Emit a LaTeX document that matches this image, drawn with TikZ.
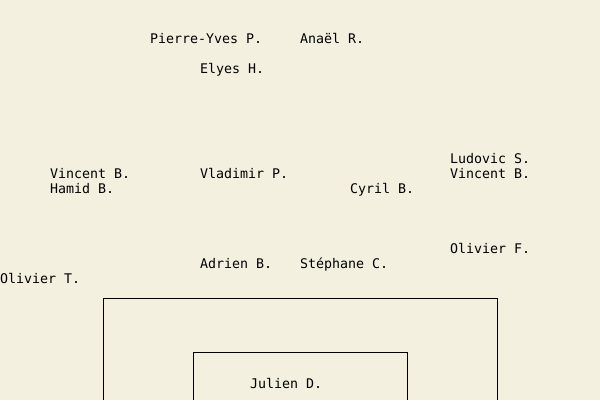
\documentclass[tikz,border=0pt]{standalone}
\usepackage{fontspec}
\newfontfamily\monof{DejaVu Sans Mono}
\definecolor{bgcol}{RGB}{243,240,224}
\tikzset{
  person/.style={anchor=base west, inner sep=0pt, outer sep=0pt, font=\monof\fontsize{13.3}{15}\selectfont, text=black},
  frame/.style={draw=black, line width=1pt}
}
\begin{document}
\begin{tikzpicture}[x=1pt,y=-1pt]
\useasboundingbox (0,0) rectangle (600,400);
\fill[bgcol] (0,0) rectangle (600,400);
\node[person] (pierre) at (150,43) {Pierre-Yves P.};
\node[person] (anael) at (300,43) {Anaël R.};
\node[person] (elyes) at (200,73) {Elyes H.};
\node[person] (ludovic) at (450,163) {Ludovic S.};
\node[person] (vincentl) at (50,178) {Vincent B.};
\node[person] (vladimir) at (200,178) {Vladimir P.};
\node[person] (vincentr) at (450,178) {Vincent B.};
\node[person] (hamid) at (50,193) {Hamid B.};
\node[person] (cyril) at (350,193) {Cyril B.};
\node[person] (olivierf) at (450,253) {Olivier F.};
\node[person] (adrien) at (200,268) {Adrien B.};
\node[person] (stephane) at (300,268) {Stéphane C.};
\node[person] (oliviert) at (0,283) {Olivier T.};
\node[person] (julien) at (250,388) {Julien D.};
\draw[frame] (103.5,400) -- (103.5,298.5) -- (497.5,298.5) -- (497.5,400);
\draw[frame] (193.5,400) -- (193.5,352.5) -- (407.5,352.5) -- (407.5,400);
\end{tikzpicture}
\end{document}
